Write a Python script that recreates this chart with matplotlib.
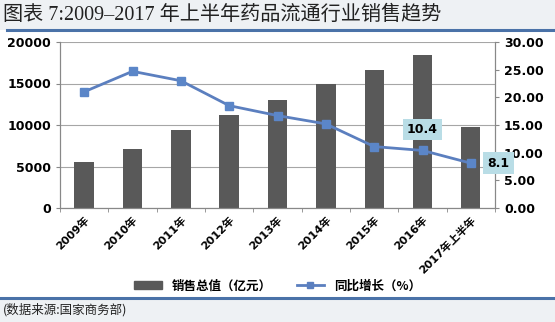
import numpy as np
import matplotlib.pyplot as plt
from matplotlib.lines import Line2D
from matplotlib.patches import Rectangle

plt.rcParams['font.family'] = ['DejaVu Sans', 'Noto Sans CJK SC']

years = ['2009年', '2010年', '2011年', '2012年', '2013年', '2014年', '2015年', '2016年', '2017年上半年']
sales = [5600, 7100, 9450, 11150, 13000, 15000, 16650, 18400, 9800]
growth = [21.0, 24.7, 23.0, 18.5, 16.7, 15.2, 11.1, 10.4, 8.1]
labelled = [7, 8]

fig = plt.figure(figsize=(5.55, 3.22), dpi=100)
fig.patch.set_facecolor('white')

# header and footer bands
fig.patches.append(Rectangle((0, 1 - 30/322), 1, 30/322, transform=fig.transFigure,
                             facecolor='#eef1f4', edgecolor='none', zorder=0))
fig.add_artist(Line2D([0.012, 1], [1 - 30/322, 1 - 30/322], color='#4a72a8', lw=2.2))
fig.patches.append(Rectangle((0, 0), 1, 24/322, transform=fig.transFigure,
                             facecolor='#eef1f4', edgecolor='none', zorder=0))
fig.add_artist(Line2D([0, 1], [24/322, 24/322], color='#4a72a8', lw=2.2))
fig.text(0.006, 1 - 15/322, '图表 7:2009–2017 年上半年药品流通行业销售趋势', fontsize=14.5,
         color='#222222', va='center', ha='left', family=['Liberation Serif', 'Noto Sans CJK SC'])
fig.text(0.006, 12/322, '(数据来源:国家商务部)', fontsize=9, color='#222222', va='center',
         family=['Noto Sans CJK SC'])

ax = fig.add_axes([60/555, 1 - 208/322, 435/555, 166/322])
ax2 = ax.twinx()
x = np.arange(len(years))

ax.bar(x, sales, width=0.4, color='#595959', zorder=2)
ax.set_ylim(0, 20000)
ax.set_yticks(range(0, 20001, 5000))
ax.set_xlim(-0.5, len(years) - 0.5)
ax.grid(axis='y', color='#a6a6a6', lw=0.8, zorder=0)
ax.set_axisbelow(True)
ax.set_xticks(x)
ax.set_xticklabels(years, rotation=45, ha='right', rotation_mode='anchor', fontsize=8,
                   fontweight='bold')
ax.set_xticks(np.arange(-0.5, len(years), 1), minor=True)
ax.tick_params(axis='x', which='major', length=0, pad=5)
ax.tick_params(axis='x', which='minor', length=3, color='#888888')
ax.tick_params(axis='y', length=3, color='#888888', labelsize=9)
for lbl in ax.get_yticklabels():
    lbl.set_fontweight('bold')

ax2.plot(x, growth, color='#5b7fbf', lw=2, marker='s', markersize=6,
         markerfacecolor='#5b86c8', markeredgecolor='#5b86c8', zorder=3)
ax2.set_ylim(0, 30)
ax2.set_yticks(np.arange(0, 30.1, 5))
ax2.set_yticklabels(['%.2f' % v for v in np.arange(0, 30.1, 5)], fontsize=9, fontweight='bold')
ax2.tick_params(axis='y', length=3, color='#888888')

for i in labelled:
    if i == len(years) - 1:
        ax2.annotate('%.1f' % growth[i], (x[i], growth[i]), xytext=(20, 0),
                     textcoords='offset points', ha='center', va='center', fontsize=9,
                     fontweight='bold', bbox=dict(boxstyle='square,pad=0.35', fc='#b9dde6', ec='none'))
    else:
        ax2.annotate('%.1f' % growth[i], (x[i], growth[i]), xytext=(0, 15),
                     textcoords='offset points', ha='center', va='center', fontsize=9,
                     fontweight='bold', bbox=dict(boxstyle='square,pad=0.35', fc='#b9dde6', ec='none'))

for a in (ax, ax2):
    a.spines['top'].set_visible(False)
    a.spines['left'].set_color('#888888')
    a.spines['right'].set_color('#888888')
    a.spines['bottom'].set_color('#888888')

handles = [Rectangle((0, 0), 1, 1, color='#595959'),
           Line2D([], [], color='#5b7fbf', lw=2, marker='s', markersize=5)]
fig.legend(handles, ['销售总值（亿元）', '同比增长（%）'], loc='center', ncol=2,
           bbox_to_anchor=(0.5, 1 - 286/322), frameon=False, fontsize=9,
           prop={'family': ['Noto Sans CJK SC'], 'weight': 'bold', 'size': 9},
           handlelength=2.2, handleheight=0.6, columnspacing=2)

fig.savefig('out.png', dpi=100)
